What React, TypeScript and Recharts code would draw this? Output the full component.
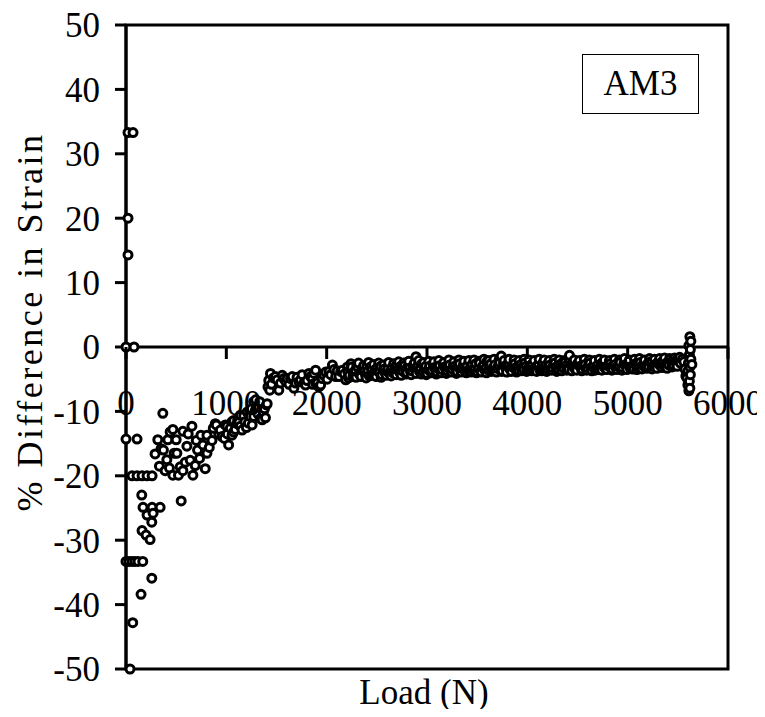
import React from 'react';
import {
    ScatterChart,
    Scatter,
    XAxis,
    YAxis,
    ReferenceLine,
    ReferenceArea,
    Label,
    Text,
} from 'recharts';

// [load (N), % difference in strain]
const initialPoints: Array<[number, number]> = [
    [20, 33.3], [70, 33.3], [20, 20], [20, 14.3], [0, 0], [80, 0],
    [0, -14.3], [110, -14.3],
    [60, -20], [110, -20], [160, -20], [210, -20], [260, -20],
    [157, -23], [170, -24.9], [260, -24.9], [340, -24.9], [270, -25.8], [210, -26.1],
    [257, -27.2], [160, -28.5], [200, -29.2], [240, -29.9],
    [0, -33.3], [30, -33.3], [60, -33.3], [90, -33.3], [120, -33.3], [167, -33.3],
    [257, -35.9], [150, -38.4], [67, -42.8], [40, -50],
];

const rampPoints: Array<[number, number]> = [
    [290, -16.6], [317, -14.4], [333, -18.5], [350, -15.8], [367, -10.3], [373, -16.0],
    [390, -19.2], [407, -17.5], [417, -14.4], [433, -18.8], [440, -13.2], [467, -12.8],
    [467, -19.9], [480, -16.5], [500, -14.4], [507, -16.5], [523, -19.9], [540, -18.6],
    [550, -23.9], [567, -13.1], [567, -19.2], [590, -17.9], [607, -15.4], [620, -13.5],
    [640, -17.6], [657, -12.3], [667, -19.9], [690, -18.4], [700, -14.5], [713, -16.0],
    [733, -17.3], [747, -13.7], [767, -15.2], [790, -18.9], [807, -16.5], [807, -13.7],
    [830, -15.6], [857, -14.5], [870, -12.6], [890, -11.9], [900, -12.1], [925, -13.5],
    [940, -12.9], [957, -13.9], [980, -14.2], [990, -12.1], [1007, -12.3], [1010, -13.5],
    [1023, -15.2], [1040, -12.6], [1057, -11.6], [1057, -13.7], [1073, -13.2], [1073, -11.4],
    [1090, -12.8], [1107, -11.9], [1113, -11.3], [1125, -11.7], [1140, -12.3], [1140, -10.6],
    [1157, -12.9], [1173, -10.7], [1185, -11.6], [1200, -12.5], [1207, -10.1], [1220, -11.8],
    [1233, -10.1], [1240, -10.8], [1250, -9.6], [1257, -12.1], [1273, -10.8], [1273, -8.5],
    [1290, -9.8], [1293, -8.2], [1307, -9.5], [1315, -10.4], [1323, -9.3], [1333, -8.5],
    [1340, -11.1], [1357, -11.3], [1367, -10.1], [1380, -9.6], [1390, -11.0], [1400, -9.0],
    [1407, -8.8],
];

const plateauPoints: Array<[number, number]> = [
    [1415, -6.2], [1423, -5.2], [1433, -6.7], [1440, -4.1], [1450, -5.8], [1470, -4.8],
    [1490, -4.6], [1507, -5.1], [1523, -6.7], [1540, -5.6], [1557, -4.4], [1573, -4.9],
    [1590, -5.3], [1607, -4.9], [1625, -5.8], [1640, -4.9], [1657, -4.6], [1673, -6.4],
    [1690, -5.6], [1705, -4.7], [1723, -5.4], [1740, -5.1], [1755, -4.3], [1773, -5.6],
    [1790, -5.9], [1805, -5.2], [1823, -4.1], [1840, -4.6], [1857, -4.9], [1860, -5.8],
    [1873, -4.1], [1890, -5.6], [1890, -3.6], [1907, -5.6], [1923, -6.2], [1940, -5.9],
    [1955, -4.9], [1973, -4.4], [1990, -3.9], [2005, -5.0], [2023, -3.8], [2040, -4.3],
    [2057, -2.8], [2073, -3.5], [2090, -4.6], [2105, -3.7], [2123, -4.6], [2140, -3.8],
    [2157, -3.6], [2175, -4.2], [2190, -5.1], [2207, -3.1],
];

const bandPoints: Array<[number, number]> = [
    [2225, -4.4], [2250, -3.1], [2275, -3.9], [2300, -2.8], [2325, -4.2], [2350, -3.5],
    [2375, -3.8], [2400, -3.0], [2425, -4.5], [2450, -3.6], [2475, -4.0], [2500, -3.3],
    [2525, -3.9], [2550, -4.3], [2575, -3.4], [2600, -3.7], [2625, -4.1], [2650, -3.2],
    [2675, -3.6], [2700, -2.7], [2725, -3.9], [2750, -3.4], [2775, -2.9], [2800, -4.0],
    [2825, -3.3], [2850, -3.7], [2875, -2.5], [2890, -1.5], [2900, -3.1], [2925, -3.8],
    [2950, -2.6], [2975, -3.4], [3000, -4.1], [3025, -3.0], [3050, -3.6], [3075, -3.2],
    [3100, -3.9], [3125, -2.9], [3150, -3.5], [3175, -3.1], [3200, -3.7], [3225, -2.8],
    [3250, -3.4], [3275, -3.0], [3300, -3.8], [3325, -2.6], [3350, -3.3], [3375, -3.6],
    [3400, -2.9], [3425, -3.5], [3450, -2.7], [3475, -3.2], [3500, -3.8], [3525, -2.5],
    [3550, -3.1], [3575, -3.6], [3600, -2.2], [3625, -3.0], [3650, -3.5], [3675, -2.8],
    [3700, -3.3], [3725, -2.4], [3740, -1.4], [3750, -3.7], [3775, -3.0], [3800, -2.7],
    [3825, -3.4], [3850, -3.1], [3875, -2.6], [3900, -3.5], [3925, -2.9], [3950, -3.2],
    [3975, -2.5], [4000, -3.6], [4025, -3.0], [4050, -2.7], [4075, -3.3], [4100, -2.9],
    [4125, -3.6], [4150, -2.6], [4175, -3.1], [4200, -3.4], [4225, -2.8], [4250, -3.2],
    [4275, -2.5], [4300, -3.5], [4325, -2.9], [4350, -3.1], [4375, -2.4], [4400, -3.3],
    [4420, -1.3], [4450, -2.8], [4475, -3.4], [4500, -2.6], [4525, -3.0], [4550, -3.5],
    [4575, -2.7], [4600, -3.2], [4625, -2.5], [4650, -3.0], [4675, -3.6], [4700, -2.8],
    [4725, -3.1], [4750, -2.4], [4775, -3.3], [4800, -2.9], [4825, -2.6], [4850, -3.4],
    [4875, -2.7], [4900, -3.0], [4925, -2.4], [4950, -3.2], [4975, -2.8], [5000, -2.5],
    [5025, -3.3], [5050, -2.9], [5075, -2.6], [5100, -3.1], [5125, -2.4], [5150, -2.8],
    [5175, -3.2], [5200, -2.6], [5225, -2.3], [5250, -3.0], [5275, -2.7], [5300, -2.4],
    [5325, -2.9], [5350, -2.2], [5375, -2.7], [5400, -2.4], [5425, -1.9], [5450, -2.6],
    [5475, -2.2], [5500, -1.8], [5525, -2.5],
];

// second pass of readings, between the ones above
const bandPointsB: Array<[number, number]> = [
    [2212, -3.9], [2237, -3.4], [2262, -4.6], [2287, -3.6], [2312, -3.2], [2337, -4.0],
    [2362, -3.3], [2387, -4.3], [2412, -3.7], [2437, -3.1], [2462, -4.2], [2487, -3.5],
    [2512, -3.8], [2537, -3.0], [2562, -3.6], [2587, -4.1], [2612, -3.3], [2637, -3.8],
    [2662, -4.0], [2687, -3.1], [2712, -3.5], [2737, -3.0], [2762, -3.8], [2787, -3.5],
    [2812, -3.0], [2837, -3.9], [2862, -3.2], [2887, -3.6], [2912, -2.8], [2937, -3.3],
    [2962, -3.9], [2987, -3.0], [3012, -3.5], [3037, -3.8], [3062, -2.8], [3087, -3.5],
    [3112, -3.3], [3137, -3.8], [3162, -2.7], [3187, -3.4], [3212, -3.2], [3237, -3.7],
    [3262, -2.9], [3287, -3.4], [3312, -3.1], [3337, -3.7], [3362, -2.8], [3387, -3.3],
    [3412, -3.7], [3437, -3.0], [3462, -3.6], [3487, -2.6], [3512, -3.3], [3537, -3.7],
    [3562, -2.8], [3587, -3.3], [3612, -3.6], [3637, -2.6], [3662, -3.2], [3687, -3.7],
    [3712, -2.9], [3737, -3.5], [3762, -2.5], [3787, -3.3], [3812, -3.0], [3837, -3.6],
    [3862, -2.8], [3887, -3.2], [3912, -3.6], [3937, -2.7], [3962, -3.4], [3987, -3.0],
    [4012, -3.3], [4037, -2.8], [4062, -3.5], [4087, -3.1], [4112, -2.7], [4137, -3.3],
    [4162, -3.5], [4187, -2.8], [4212, -3.0], [4237, -3.5], [4262, -2.7], [4287, -3.1],
    [4312, -3.4], [4337, -2.6], [4362, -3.3], [4387, -2.9], [4412, -3.5], [4437, -2.7],
    [4462, -3.1], [4487, -3.5], [4512, -2.8], [4537, -3.3], [4562, -2.9], [4587, -3.4],
    [4612, -2.7], [4637, -3.3], [4662, -2.9], [4687, -3.2], [4712, -3.5], [4737, -2.6],
    [4762, -3.0], [4787, -3.4], [4812, -2.7], [4837, -3.1], [4862, -2.8], [4887, -3.3],
    [4912, -2.9], [4937, -3.4], [4962, -2.6], [4987, -3.0], [5012, -2.8], [5037, -3.1],
    [5062, -3.4], [5087, -2.7], [5112, -2.9], [5137, -3.3], [5162, -2.6], [5187, -2.9],
    [5212, -3.1], [5237, -2.5], [5262, -2.8], [5287, -3.1], [5312, -2.6], [5337, -2.4],
    [5362, -2.9], [5387, -2.5], [5412, -2.8], [5437, -2.3], [5462, -2.9], [5487, -2.5],
    [5512, -2.1],
];

// third pass: upper and lower edges of the dense band
const bandPointsC: Array<[number, number]> = [
    [2218, -4.8], [2243, -2.6], [2268, -4.1], [2293, -4.7], [2318, -2.5], [2343, -4.6],
    [2368, -2.9], [2393, -4.8], [2418, -2.4], [2443, -4.4], [2468, -2.7], [2493, -4.6],
    [2518, -2.5], [2543, -4.7], [2568, -2.8], [2593, -4.4], [2618, -2.4], [2643, -4.5],
    [2668, -2.6], [2693, -4.3], [2718, -2.3], [2743, -4.4], [2768, -2.5], [2793, -4.2],
    [2818, -2.2], [2843, -4.3], [2868, -2.7], [2893, -4.1], [2918, -2.1], [2943, -4.2],
    [2968, -2.4], [2993, -4.3], [3018, -2.2], [3043, -4.0], [3068, -2.3], [3093, -4.2],
    [3118, -2.1], [3143, -4.0], [3168, -2.4], [3193, -4.1], [3218, -2.0], [3243, -3.9],
    [3268, -2.3], [3293, -4.1], [3318, -2.0], [3343, -3.9], [3368, -2.2], [3393, -4.0],
    [3418, -2.1], [3443, -3.9], [3468, -2.0], [3493, -4.0], [3518, -2.2], [3543, -3.9],
    [3568, -1.9], [3593, -4.0], [3618, -2.1], [3643, -3.8], [3668, -1.9], [3693, -3.9],
    [3718, -2.0], [3743, -3.8], [3768, -2.1], [3793, -3.9], [3818, -1.9], [3843, -3.8],
    [3868, -2.0], [3893, -3.9], [3918, -2.1], [3943, -3.7], [3968, -1.9], [3993, -3.8],
    [4018, -2.0], [4043, -3.7], [4068, -2.1], [4093, -3.8], [4118, -1.9], [4143, -3.7],
    [4168, -2.0], [4193, -3.8], [4218, -2.1], [4243, -3.6], [4268, -1.9], [4293, -3.8],
    [4318, -2.0], [4343, -3.7], [4368, -2.1], [4393, -3.6], [4418, -1.9], [4443, -3.7],
    [4468, -2.0], [4493, -3.6], [4518, -2.1], [4543, -3.7], [4568, -1.9], [4593, -3.6],
    [4618, -2.0], [4643, -3.7], [4668, -2.1], [4693, -3.5], [4718, -1.9], [4743, -3.6],
    [4768, -2.0], [4793, -3.5], [4818, -2.1], [4843, -3.6], [4868, -1.9], [4893, -3.5],
    [4918, -2.0], [4943, -3.6], [4968, -1.8], [4993, -3.5], [5018, -2.0], [5043, -3.4],
    [5068, -1.9], [5093, -3.5], [5118, -1.8], [5143, -3.4], [5168, -2.0], [5193, -3.3],
    [5218, -1.8], [5243, -3.4], [5268, -1.9], [5293, -3.3], [5318, -1.8], [5343, -3.2],
    [5368, -1.7], [5393, -3.3], [5418, -1.8], [5443, -3.1], [5468, -1.7], [5493, -3.0],
    [5518, -1.6],
];

const finalPoints: Array<[number, number]> = [
    [5545, -1.9], [5560, -2.3], [5570, -3.4], [5580, -4.5], [5590, -4.8], [5600, -3.7],
    [5600, -5.9], [5605, -2.5], [5610, 0.2], [5610, -6.8], [5615, -1.2], [5615, -5.3],
    [5620, 1.6], [5620, -3.1], [5620, -6.4], [5625, -0.4], [5625, -4.3], [5630, 0.9],
    [5630, -1.9], [5640, -2.7],
];

const xTicks = [0, 1000, 2000, 3000, 4000, 5000, 6000];
const yTicks = [-50, -40, -30, -20, -10, 0, 10, 20, 30, 40, 50];

const points = [
    ...initialPoints,
    ...rampPoints,
    ...plateauPoints,
    ...bandPoints,
    ...bandPointsB,
    ...bandPointsC,
    ...finalPoints,
]
    .map(([x, y]) => ({ x, y }))
    .sort((a, b) => a.x - b.x);

const FONT = 'Liberation Serif';
const PLOT_TOP = 25;
const PLOT_HEIGHT = 644;
const ZERO_Y = PLOT_TOP + PLOT_HEIGHT / 2;

const OpenCircle = (props: any) => (
    <circle cx={props.cx} cy={props.cy} r={4} fill="#fff" stroke="#000" strokeWidth={3} />
);

const LoadTick = (props: any) => {
    const { x, payload } = props;
    return (
        <g>
            <line x1={x} x2={x} y1={ZERO_Y} y2={ZERO_Y + 12} stroke="#000" strokeWidth={3} />
            <Text x={x} y={ZERO_Y + 68} textAnchor="middle" verticalAnchor="end" fontSize={35} fontFamily={FONT} fill="#000">
                {String(payload.value)}
            </Text>
        </g>
    );
};

const App: React.FC = () => {
    return (
        <div
            style={{
                position: 'relative',
                margin: -8,
                width: 765,
                height: 717,
                background: '#fff',
                fontFamily: FONT,
            }}
        >
            <ScatterChart
                width={765}
                height={717}
                margin={{ top: PLOT_TOP, right: 37, bottom: 47, left: 26 }}
            >
                <XAxis
                    type="number"
                    dataKey="x"
                    domain={[0, 6000]}
                    ticks={xTicks}
                    interval={0}
                    height={1}
                    axisLine={false}
                    tickLine={false}
                    tick={<LoadTick />}
                >
                    <Label
                        content={(p: any) => {
                            const vb = p.viewBox;
                            return (
                                <Text
                                    x={vb.x + vb.width / 2 - 3}
                                    y={vb.y + 35}
                                    textAnchor="middle"
                                    verticalAnchor="end"
                                    fontSize={35}
                                    fontFamily={FONT}
                                    fill="#000"
                                >
                                    Load (N)
                                </Text>
                            );
                        }}
                    />
                </XAxis>
                <YAxis
                    type="number"
                    dataKey="y"
                    domain={[-50, 50]}
                    ticks={yTicks}
                    interval={0}
                    width={100}
                    tickSize={11}
                    tickMargin={15}
                    axisLine={{ stroke: '#000', strokeWidth: 3 }}
                    tickLine={{ stroke: '#000', strokeWidth: 3 }}
                    tick={{ fill: '#000', fontSize: 35, fontFamily: FONT }}
                >
                    <Label
                        content={(p: any) => {
                            const vb = p.viewBox;
                            const cx = vb.x + 15.5;
                            const cy = vb.y + vb.height / 2 - 25;
                            return (
                                <Text
                                    x={cx}
                                    y={cy}
                                    angle={-90}
                                    textAnchor="middle"
                                    verticalAnchor="end"
                                    fontSize={36}
                                    fontFamily={FONT}
                                    letterSpacing={2.5}
                                    fill="#000"
                                >
                                    % Difference in Strain
                                </Text>
                            );
                        }}
                    />
                </YAxis>
                <ReferenceArea
                    x1={0}
                    x2={6000}
                    y1={-50}
                    y2={50}
                    fill="none"
                    fillOpacity={0}
                    stroke="#000"
                    strokeWidth={3}
                />
                <ReferenceLine y={0} stroke="#000" strokeWidth={3} />
                <Scatter data={points} shape={OpenCircle} isAnimationActive={false} />
            </ScatterChart>
            <div
                style={{
                    position: 'absolute',
                    left: 582,
                    top: 54,
                    width: 117,
                    height: 60,
                    boxSizing: 'border-box',
                    border: '1.5px solid #000',
                    background: '#fff',
                    fontSize: 35,
                    lineHeight: '57px',
                    textAlign: 'center',
                }}
            >
                AM3
            </div>
        </div>
    );
};

export default App;
